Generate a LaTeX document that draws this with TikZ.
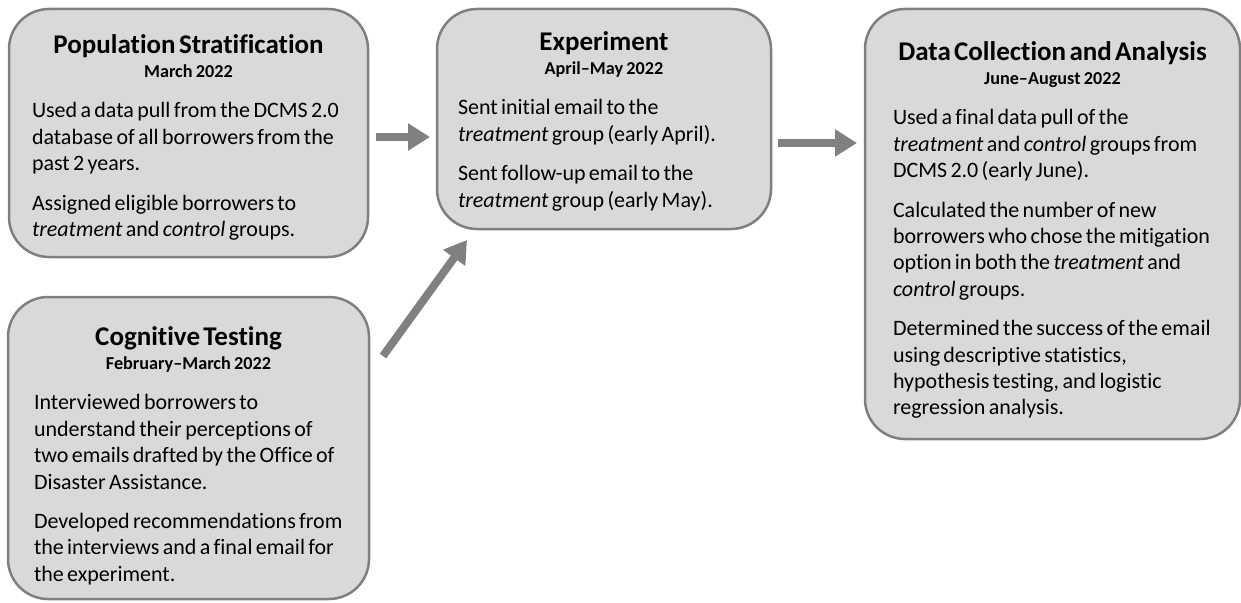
\documentclass[tikz,border=0pt]{standalone}
\usepackage{fontspec}
\setmainfont{Carlito}[Ligatures=NoCommon]
\usetikzlibrary{arrows.meta,calc}
\definecolor{boxfill}{HTML}{D9D9D9}
\definecolor{boxline}{HTML}{7F7F7F}
\definecolor{arrowgray}{HTML}{808080}
\newcommand{\ttl}[1]{{\fontsize{27}{27}\selectfont\bfseries #1\par}}
\newcommand{\dte}[1]{{\fontsize{18.2}{24}\selectfont\bfseries #1\par}}
\newcommand{\bodystart}{\vspace{13.5pt}\raggedright\fontsize{22}{26.4}\selectfont}
\newcommand{\pgap}{\par\vspace{13pt}}
\begin{document}
\begin{tikzpicture}[x=1pt,y=-1pt,
  stage/.style={draw=boxline, fill=boxfill, line width=2.5pt, rounded corners=40pt,
    anchor=north west, inner sep=0pt, outer sep=0pt},
  stagetext/.style={anchor=north, inner sep=0pt, outer sep=0pt, align=center},
  flow/.style={draw=arrowgray, line width=8pt, -{Triangle[length=22pt,width=26pt]}}]
\useasboundingbox (0,0) rectangle (1241,602);
% boxes
\node[stage, minimum width=359pt, minimum height=248pt] (ps) at (9,9) {};
\node[stage, minimum width=361pt, minimum height=302pt] (ct) at (8,297) {};
\node[stage, minimum width=334pt, minimum height=220pt] (ex) at (437,9) {};
\node[stage, minimum width=375pt, minimum height=430pt] (dc) at (865,9) {};
% texts
\node[stagetext, text width=313pt] (pst) at ([yshift=-26pt]ps.north) {%
\centering\ttl{Population Stratification}\dte{March 2022}%
\bodystart Used a data pull from the DCMS 2.0\\ database of all borrowers from the\\ past 2 years.\pgap
Assigned eligible borrowers to\\ \textit{treatment} and \textit{control} groups.\par};
\node[stagetext, text width=309pt] (ctt) at ([yshift=-30pt]ct.north) {%
\centering\ttl{Cognitive Testing}\dte{February--March 2022}%
\bodystart Interviewed borrowers to\\ understand their perceptions of\\ two emails drafted by the Office of\\ Disaster Assistance.\pgap
Developed recommendations from\\ the interviews and a final email for\\ the experiment.\par};
\node[stagetext, text width=292pt] (ext) at ([yshift=-23pt]ex.north) {%
\centering\ttl{Experiment}\dte{April--May 2022}%
\bodystart Sent initial email to the\\ \textit{treatment} group (early April).\pgap
Sent follow-up email to the\\ \textit{treatment} group (early May).\par};
\node[stagetext, text width=319pt] (dct) at ([yshift=-33pt]dc.north) {%
\centering\ttl{Data Collection and Analysis}\dte{June--August 2022}%
\bodystart Used a final data pull of the\\ \textit{treatment} and \textit{control} groups from\\ DCMS 2.0 (early June).\pgap
Calculated the number of new\\ borrowers who chose the mitigation\\ option in both the \textit{treatment} and\\ \textit{control} groups.\pgap
Determined the success of the email\\ using descriptive statistics,\\ hypothesis testing, and logistic\\ regression analysis.\par};
% arrow end points
\coordinate (a1s) at (376,137);
\coordinate (a1e) at (430,137);
\coordinate (a2s) at (778,143);
\coordinate (a2e) at (857,143);
\coordinate (a3s) at (383,356);
\coordinate (a3e) at (467,240);
\draw[flow] (a1s) -- (a1e);
\draw[flow] (a2s) -- (a2e);
\draw[flow] (a3s) -- (a3e);
\end{tikzpicture}
\end{document}
